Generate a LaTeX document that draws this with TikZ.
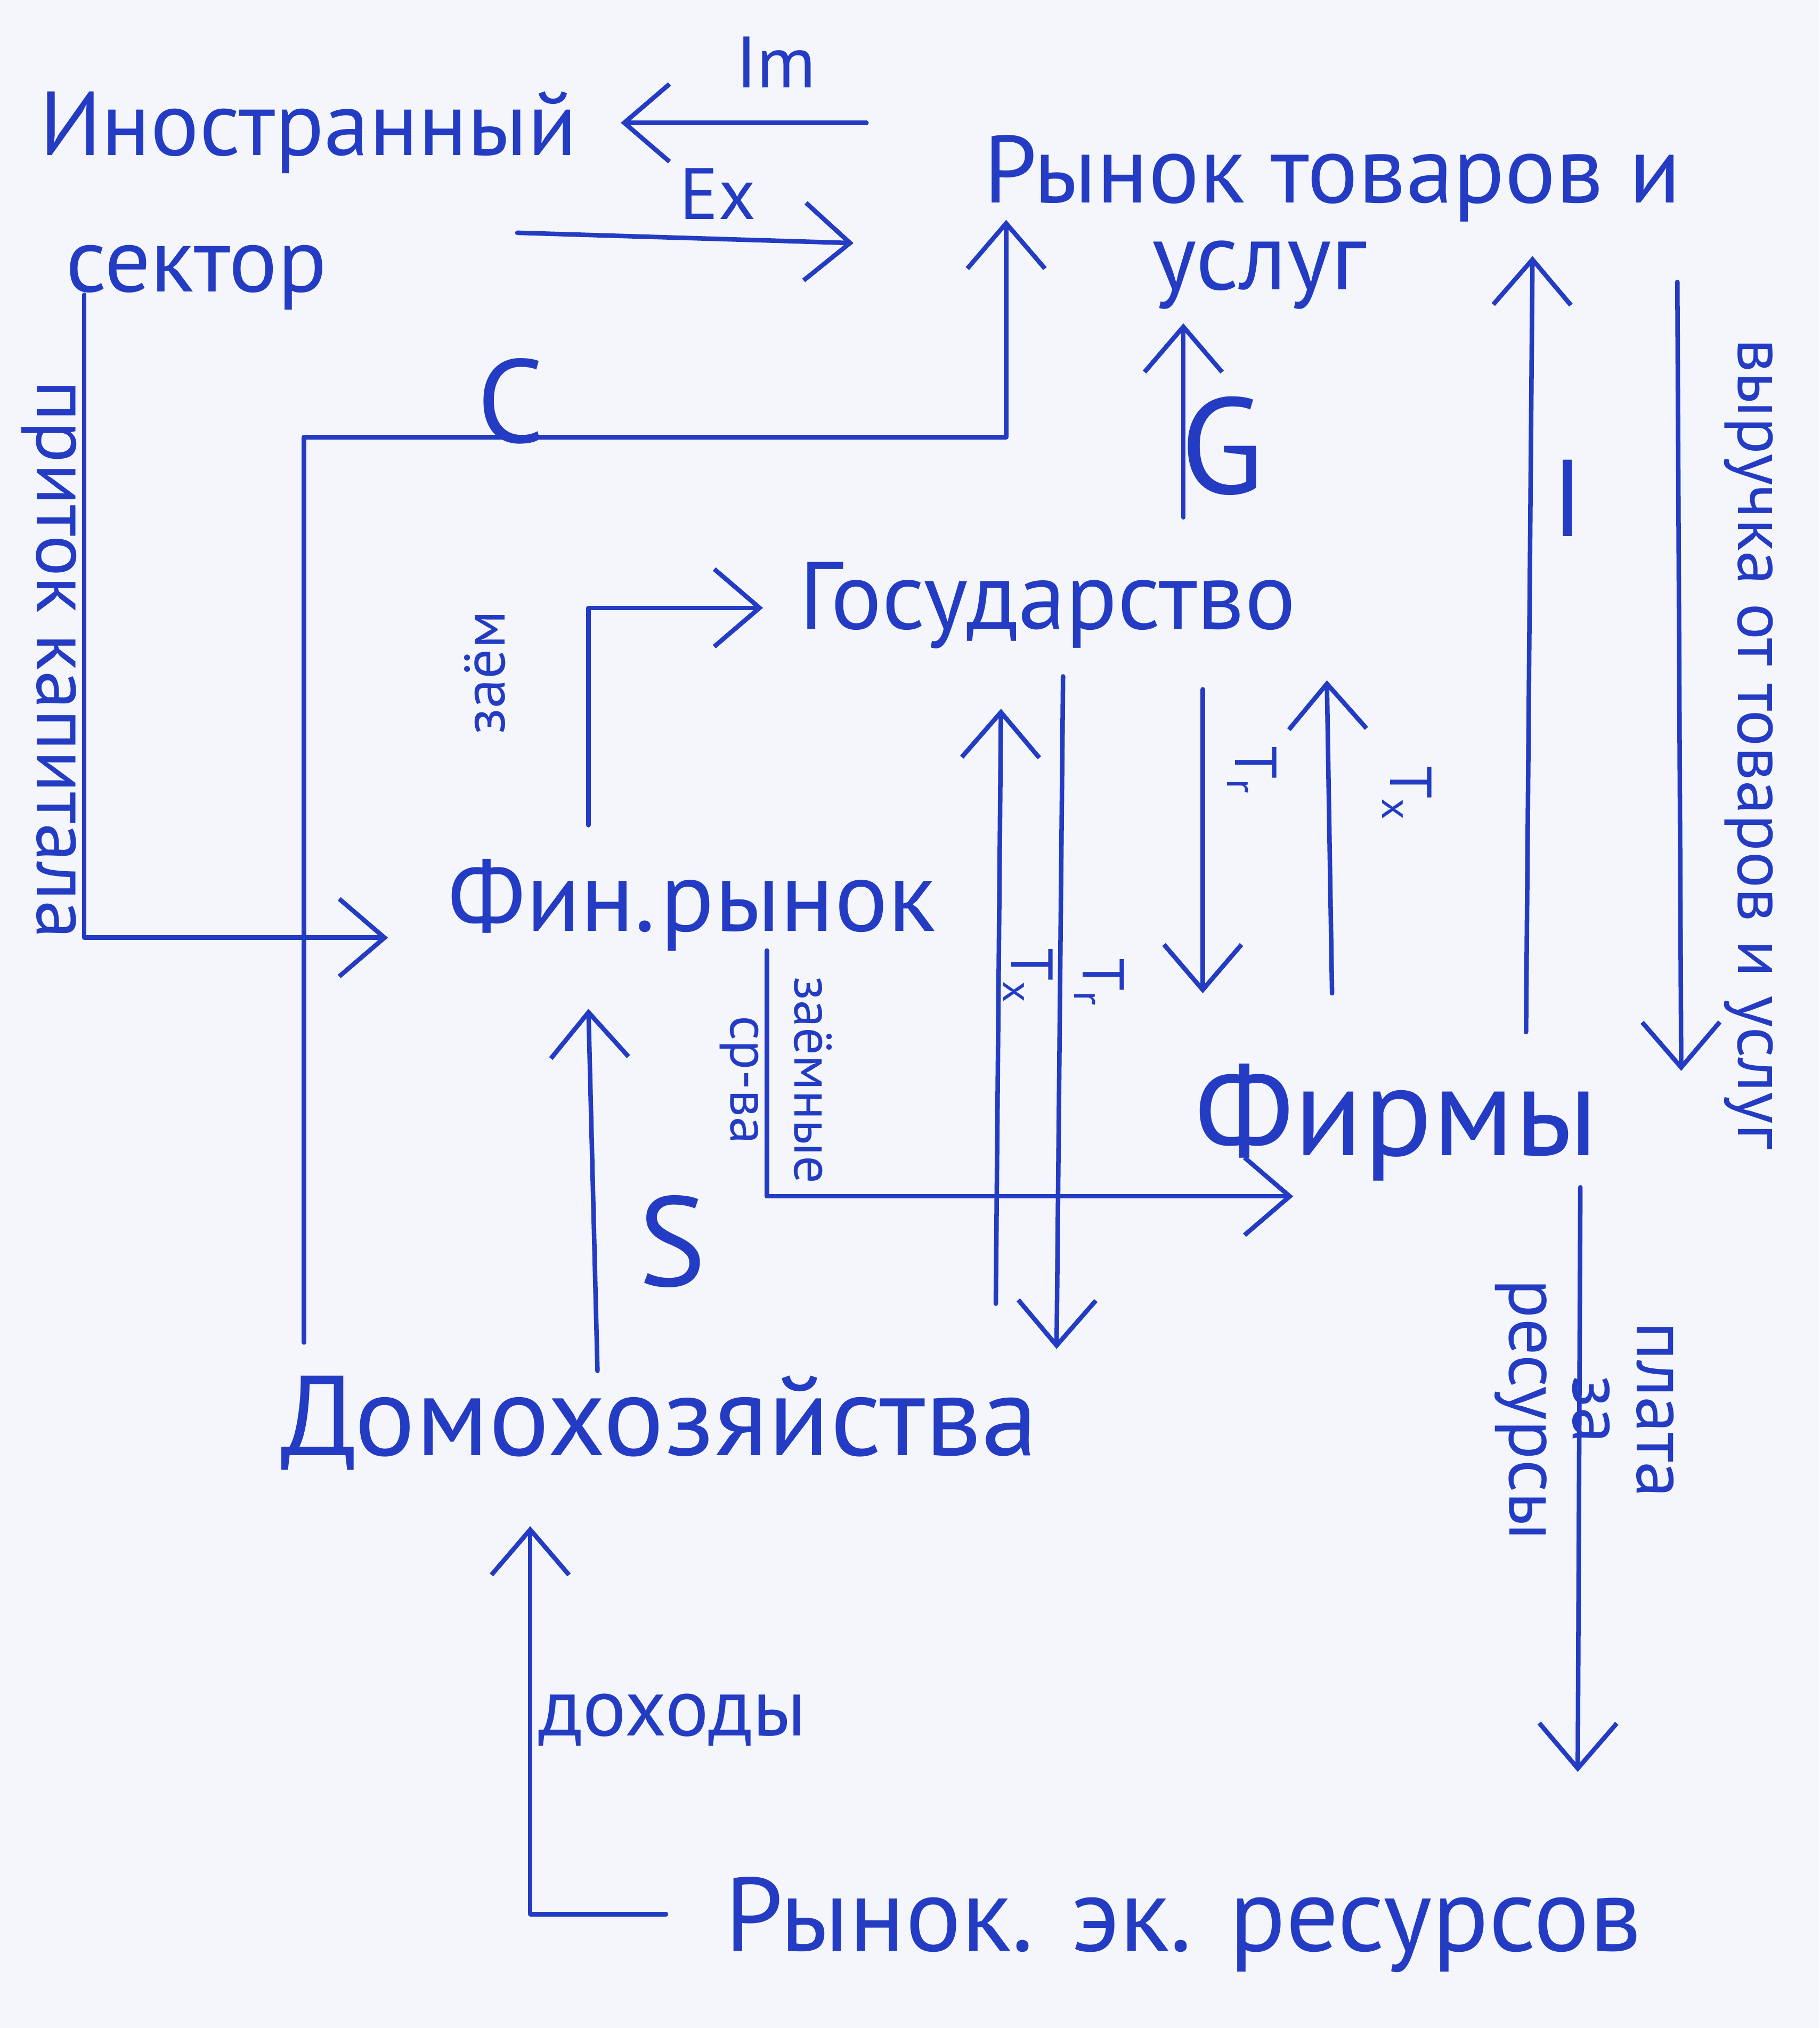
\documentclass[tikz,border=0pt]{standalone}
\usepackage{fontspec}
\setmainfont{PT Sans}
\usetikzlibrary{arrows.meta}
\definecolor{ink}{RGB}{35,60,195}
\definecolor{paper}{RGB}{245,246,251}
\begin{document}
\begin{tikzpicture}[
  every node/.style={text=ink, inner sep=0pt},
  big/.style={font=\fontsize{21}{25}\selectfont},
  mid/.style={font=\fontsize{16}{18}\selectfont},
  small/.style={font=\fontsize{13}{14}\selectfont},
  inkline/.style={draw=ink, line width=1pt, line cap=round, line join=round},
  inkarrow/.style={inkline, -{Straight Barb[length=3.5mm,width=6mm]}}]
\fill[paper] (0,0) rectangle (14.07,15.68);
\useasboundingbox (0,0) rectangle (14.07,15.68);

\node[font=\fontsize{20}{30}\selectfont, align=left, anchor=north west] (foreign) at (0.3,14.98) {Иностранный\\\hspace{2mm}сектор};
\node[font=\fontsize{21}{19}\selectfont, align=left, anchor=north west] (goods) at (7.6,14.64) {Рынок товаров и\\\hspace{13mm}услуг};
\node[big] (gov) at (8.1,11.0) {Государство};
\node[font=\fontsize{22}{26}\selectfont] (finm) at (5.35,8.68) {Фин.рынок};
\node[font=\fontsize{28}{30}\selectfont] (firms) at (10.8,7.0) {Фирмы};
\node[font=\fontsize{25}{28}\selectfont] (house) at (5.1,4.68) {Домохозяйства};
\node[font=\fontsize{23}{26}\selectfont] (resm) at (9.15,0.8) {Рынок. эк. ресурсов};

\coordinate (imR) at (6.7,14.73);
\coordinate (imL) at (4.8,14.73);
\coordinate (exL) at (4.0,13.88);
\coordinate (exR) at (6.6,13.8);
\coordinate (cS) at (2.35,5.3);
\coordinate (cE) at (7.78,13.98);
\coordinate (kS) at (0.65,13.4);
\coordinate (kE) at (3.0,8.43);
\coordinate (zS) at (4.55,9.3);
\coordinate (zE) at (5.9,10.98);
\coordinate (fS) at (5.93,8.33);
\coordinate (fE) at (10.0,6.43);
\coordinate (dS) at (5.15,0.88);
\coordinate (dE) at (4.1,3.88);
\coordinate (sS) at (4.62,5.08);
\coordinate (sE) at (4.55,7.88);
\coordinate (gS) at (9.15,11.68);
\coordinate (gE) at (9.15,13.18);
\coordinate (iS) at (11.8,7.7);
\coordinate (iE) at (11.85,13.7);
\coordinate (vS) at (12.97,13.5);
\coordinate (vE) at (13.0,7.4);
\coordinate (pS) at (12.22,6.5);
\coordinate (pE) at (12.2,1.98);
\coordinate (txS) at (7.7,5.6);
\coordinate (txE) at (7.74,10.2);
\coordinate (trS) at (8.22,10.45);
\coordinate (trE) at (8.17,5.25);
\coordinate (trS2) at (9.3,10.35);
\coordinate (trE2) at (9.3,8.0);
\coordinate (txS2) at (10.3,8.0);
\coordinate (txE2) at (10.26,10.42);

\draw[inkarrow] (imR) -- (imL);
\draw[inkarrow] (exL) -- (exR);
\draw[inkarrow] (cS) -- ++(0,7.0) -| (cE);
\draw[inkarrow] (kS) |- (kE);
\draw[inkarrow] (zS) |- (zE);
\draw[inkarrow] (fS) |- (fE);
\draw[inkarrow] (dS) -| (dE);
\draw[inkarrow] (sS) -- (sE);
\draw[inkarrow] (gS) -- (gE);
\draw[inkarrow] (iS) -- (iE);
\draw[inkarrow] (vS) -- (vE);
\draw[inkarrow] (pS) -- (pE);
\draw[inkarrow] (txS) -- (txE);
\draw[inkarrow] (trS) -- (trE);
\draw[inkarrow] (trS2) -- (trE2);
\draw[inkarrow] (txS2) -- (txE2);

\node[mid] (lIm) at (6.0,15.2) {Im};
\node[mid] (lEx) at (5.55,14.18) {Ex};
\node[font=\fontsize{26}{28}\selectfont] (lC) at (3.95,12.58) {C};
\node[font=\fontsize{30}{32}\selectfont] (lG) at (9.45,12.23) {G};
\node[font=\fontsize{28}{30}\selectfont] (lS) at (5.2,6.08) {S};
\node[font=\fontsize{24}{26}\selectfont] (lI) at (12.12,11.83) {I};
\node[font=\fontsize{17}{19}\selectfont, rotate=-90] (lK) at (0.38,10.58) {приток капитала};
\node[font=\fontsize{15}{17}\selectfont, rotate=-90] (lV) at (13.52,9.93) {выручка от товаров и услуг};
\node[font=\fontsize{16}{14}\selectfont, rotate=-90, align=center] (lP) at (12.25,4.78) {плата\\за\\ресурсы};
\node[font=\fontsize{18}{20}\selectfont] (lD) at (5.2,2.38) {доходы};
\node[small, rotate=90] (lZ) at (3.75,10.48) {заём};
\node[font=\fontsize{12}{14}\selectfont, rotate=-90, align=center] (lF) at (6.0,7.33) {заёмные\\ср-ва};
\node[small, rotate=-90] (lTx) at (7.95,8.13) {T\textsubscript{x}};
\node[small, rotate=-90] (lTr) at (8.5,8.08) {T\textsubscript{r}};
\node[small, rotate=-90] (lTr2) at (9.68,9.72) {T\textsubscript{r}};
\node[small, rotate=-90] (lTx2) at (10.88,9.54) {T\textsubscript{x}};
\end{tikzpicture}
\end{document}
